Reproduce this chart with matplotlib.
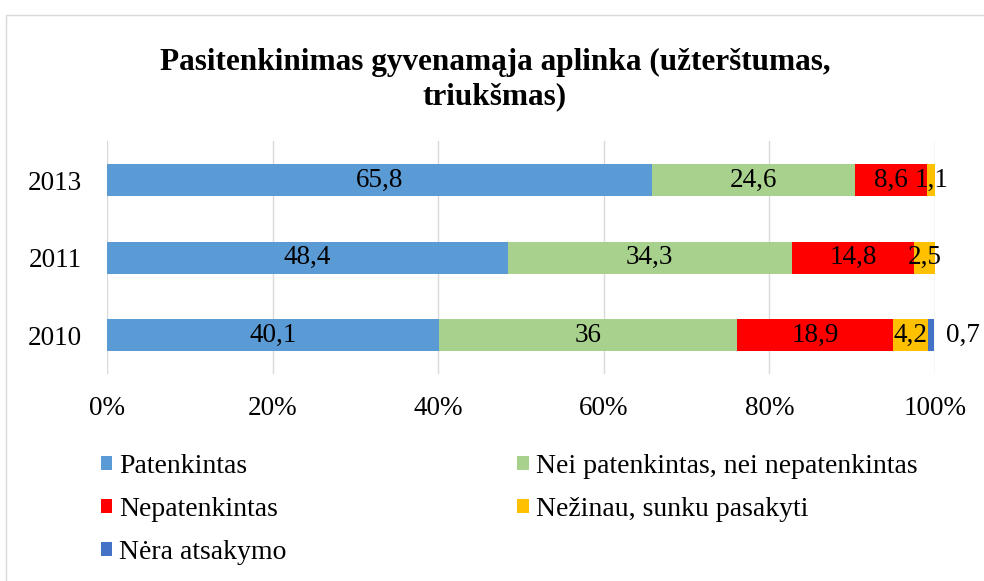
import matplotlib
matplotlib.use("Agg")
import matplotlib.pyplot as plt
import matplotlib.patches as patches
import numpy as np

plt.rcParams["font.family"] = ["Liberation Serif", "DejaVu Serif"]

YEARS = ["2010", "2011", "2013"]
SERIES = ["Patenkintas", "Nei patenkintas, nei nepatenkintas",
          "Nepatenkintas", "Nežinau, sunku pasakyti", "Nėra atsakymo"]
PATENKINTAS = [40.1, 48.4, 65.8]
NEI = [36.0, 34.3, 24.6]
NEPATENKINTAS = [18.9, 14.8, 8.6]
NEZINAU = [4.2, 2.5, 1.1]
NERA = [0.7, 0.0, 0.0]
COLORS = ["#5B9BD5", "#A9D18E", "#FF0000", "#FFC000", "#4472C4"]

FS = 19.5


def fmt(v):
    s = f"{v:.1f}".replace(".", ",")
    return s[:-2] if s.endswith(",0") else s


def main():
    fig = plt.figure(figsize=(9.84, 5.81), dpi=100)
    ax = fig.add_axes([0.109, 0.356, 0.841, 0.401])

    # chart frame
    fig.patches.append(patches.Rectangle(
        (0.006, -0.1), 1.2, 1.074, transform=fig.transFigure,
        fill=False, edgecolor="#D9D9D9", linewidth=1.0))

    data = [PATENKINTAS, NEI, NEPATENKINTAS, NEZINAU, NERA]
    y = np.arange(len(YEARS))
    left = np.zeros(len(YEARS))
    handles = []
    for vals, name, color in zip(data, SERIES, COLORS):
        vals = np.array(vals)
        bars = ax.barh(y, vals, left=left, height=0.41, color=color,
                       label=name, zorder=3)
        handles.append(bars)
        for yi, (v, l) in enumerate(zip(vals, left)):
            if v <= 0:
                continue
            if v < 1:
                ax.annotate(fmt(v), (l + v, yi), xytext=(9, 0),
                            textcoords="offset points", ha="left",
                            va="center", fontsize=FS, zorder=4)
            else:
                ax.text(l + v / 2, yi, fmt(v), ha="center", va="center",
                        fontsize=FS, zorder=4)
        left = left + vals

    ax.set_xlim(0, 100)
    ax.set_ylim(-0.5, 2.5)
    ax.set_xticks(np.arange(0, 101, 20))
    ax.set_xticklabels([f"{t}%" for t in range(0, 101, 20)], fontsize=FS)
    ax.set_yticks(y)
    ax.set_yticklabels(YEARS, fontsize=FS)
    ax.tick_params(length=0)
    ax.tick_params(axis="x", pad=16)
    ax.tick_params(axis="y", pad=18)
    ax.grid(axis="x", color="#D9D9D9", linewidth=1.0, zorder=0)
    for s in ax.spines.values():
        s.set_visible(False)

    fig.text(0.503, 0.863,
             "Pasitenkinimas gyvenamąja aplinka (užterštumas,\ntriukšmas)",
             ha="center", va="center", fontsize=22.5, fontweight="bold",
             linespacing=1.25)

    order = [0, 2, 4, 1, 3]
    fig.legend([handles[i] for i in order], [SERIES[i] for i in order],
               ncol=2, loc="upper left", bbox_to_anchor=(0.091, 0.238),
               frameon=False, fontsize=20, handlelength=0.42,
               handleheight=0.42, handletextpad=0.25, columnspacing=8.3,
               labelspacing=0.65, borderaxespad=0)

    fig.savefig("out.png", dpi=100)


if __name__ == "__main__":
    main()
